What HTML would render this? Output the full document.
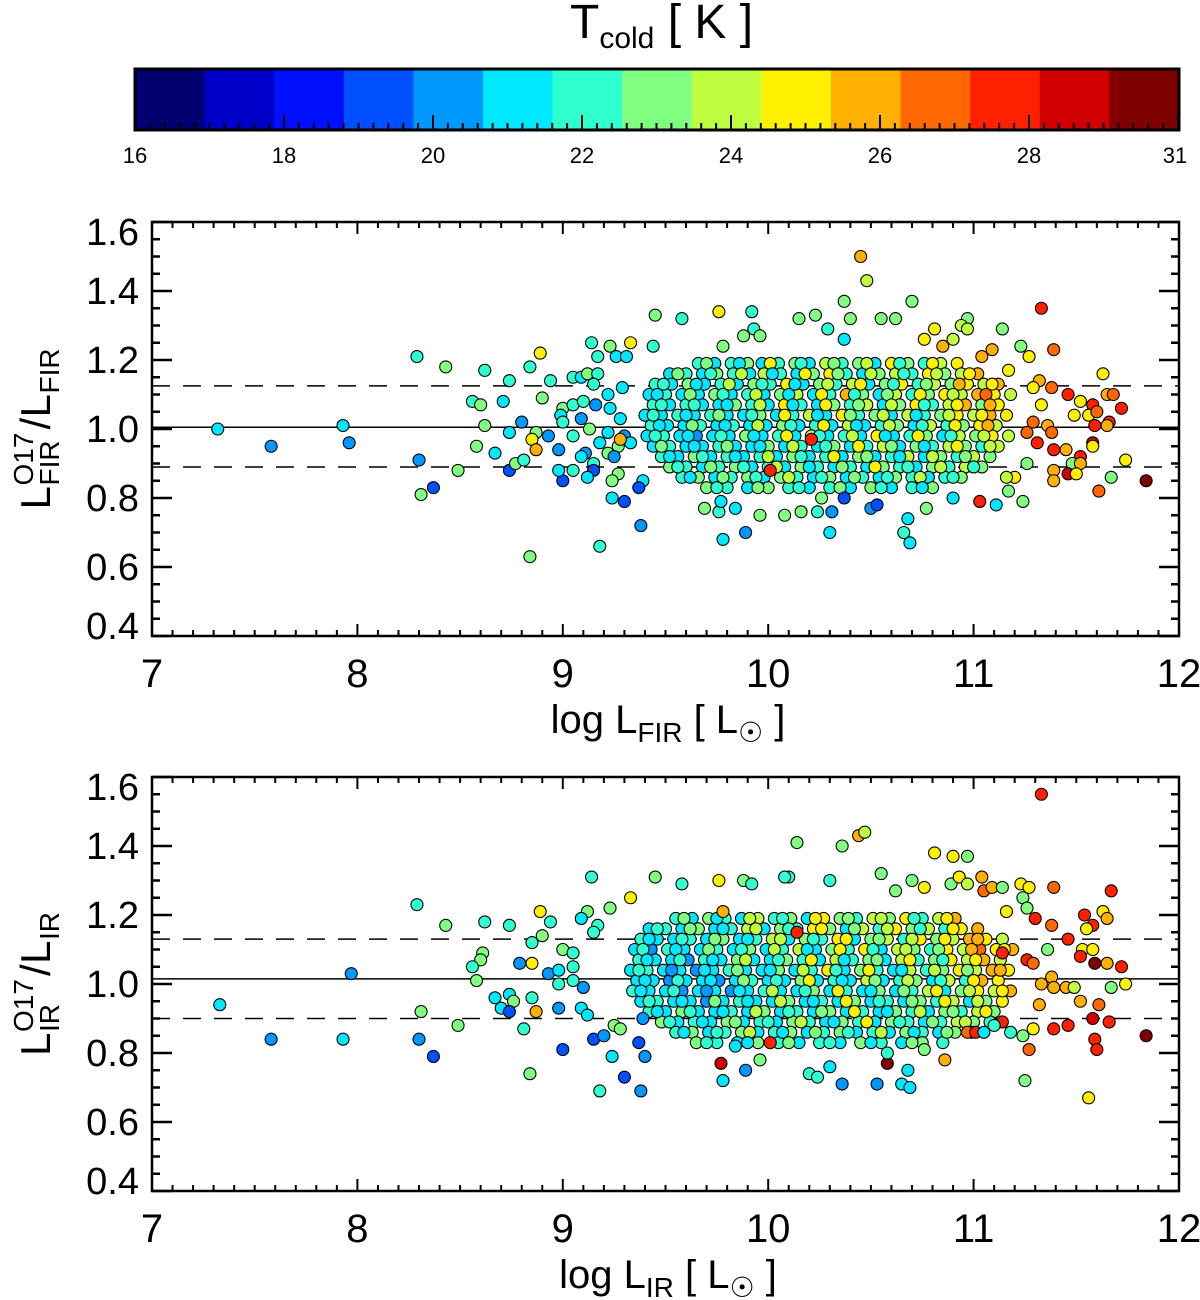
<!DOCTYPE html>
<html><head><meta charset="utf-8">
<style>
html,body{margin:0;padding:0;background:#fff;}
svg{display:block;font-family:"Liberation Sans","DejaVu Sans",sans-serif;}
</style></head>
<body>
<svg id="fig" width="1200" height="1300" viewBox="0 0 1200 1300" xmlns="http://www.w3.org/2000/svg"></svg>
<script>
// ---------- data ----------
const cbTickLabels = [16,18,20,22,24,26,28];
const cbEndLabel = "31";
const cbColors = ["#00006e","#0000c8","#0010ff","#0050ff","#0098ff","#00e8ff","#30ffd0","#80ff80","#c0ff40","#fff000","#ffb000","#ff6800","#ff2000","#d00000","#800000"];
const xTicks = [7,8,9,10,11,12];
const yTicks = [0.4,0.6,0.8,1.0,1.2,1.4,1.6];
const firRefLines = [1.005,1.125,0.89];
const irRefLines = [1.015,1.13,0.90];

const firCore = [
[9.66,1.19,22],[9.74,1.19,21],[9.82,1.19,22],[9.90,1.19,23],[9.97,1.19,21],[10.05,1.19,22],[10.13,1.19,23],[10.20,1.19,21],[10.28,1.19,24],[10.36,1.19,22],[10.44,1.19,23],[10.52,1.19,21],[10.60,1.19,25],[10.68,1.19,23],[10.76,1.19,22],[10.84,1.19,24],[10.92,1.19,25],
[9.52,1.16,21],[9.60,1.16,22],[9.68,1.16,21],[9.75,1.16,23],[9.83,1.16,22],[9.91,1.16,21],[9.98,1.16,24],[10.06,1.16,22],[10.14,1.16,21],[10.22,1.16,23],[10.30,1.16,25],[10.38,1.16,22],[10.46,1.16,21],[10.54,1.16,23],[10.62,1.16,24],[10.70,1.16,22],[10.78,1.16,25],[10.86,1.16,23],[10.94,1.16,24],[11.02,1.16,26],
[9.45,1.13,22],[9.53,1.13,21],[9.61,1.13,23],[9.69,1.13,21],[9.77,1.13,22],[9.85,1.13,21],[9.93,1.13,23],[10.01,1.13,22],[10.09,1.13,25],[10.17,1.13,21],[10.25,1.13,23],[10.33,1.13,22],[10.41,1.13,24],[10.49,1.13,21],[10.57,1.13,23],[10.65,1.13,25],[10.73,1.13,22],[10.81,1.13,24],[10.89,1.13,23],[10.97,1.13,25],[11.05,1.13,24],[11.12,1.13,26],
[9.42,1.10,21],[9.50,1.10,22],[9.58,1.10,21],[9.66,1.10,21],[9.74,1.10,23],[9.82,1.10,21],[9.90,1.10,22],[9.98,1.10,21],[10.06,1.10,23],[10.14,1.10,24],[10.22,1.10,21],[10.30,1.10,22],[10.38,1.10,26],[10.46,1.10,23],[10.54,1.10,21],[10.62,1.10,24],[10.70,1.10,22],[10.78,1.10,23],[10.86,1.10,25],[10.94,1.10,24],[11.02,1.10,26],[11.10,1.10,25],[11.18,1.10,24],
[9.44,1.07,22],[9.52,1.07,21],[9.60,1.07,22],[9.68,1.07,21],[9.76,1.07,21],[9.84,1.07,23],[9.92,1.07,22],[10.00,1.07,21],[10.08,1.07,25],[10.16,1.07,22],[10.24,1.07,21],[10.32,1.07,23],[10.40,1.07,22],[10.48,1.07,24],[10.56,1.07,21],[10.64,1.07,23],[10.72,1.07,25],[10.80,1.07,22],[10.88,1.07,24],[10.96,1.07,26],[11.04,1.07,23],[11.12,1.07,25],
[9.40,1.04,21],[9.48,1.04,21],[9.56,1.04,22],[9.64,1.04,21],[9.72,1.04,22],[9.80,1.04,21],[9.88,1.04,21],[9.96,1.04,23],[10.04,1.04,21],[10.12,1.04,22],[10.20,1.04,24],[10.28,1.04,21],[10.36,1.04,25],[10.44,1.04,22],[10.52,1.04,23],[10.60,1.04,21],[10.68,1.04,24],[10.76,1.04,22],[10.84,1.04,23],[10.92,1.04,25],[11.00,1.04,24],[11.08,1.04,26],[11.16,1.04,25],
[9.43,1.01,22],[9.51,1.01,21],[9.59,1.01,21],[9.67,1.01,22],[9.75,1.01,21],[9.83,1.01,22],[9.91,1.01,21],[9.99,1.01,21],[10.07,1.01,23],[10.15,1.01,21],[10.23,1.01,22],[10.31,1.01,21],[10.39,1.01,24],[10.47,1.01,21],[10.55,1.01,22],[10.63,1.01,23],[10.71,1.01,21],[10.79,1.01,24],[10.87,1.01,22],[10.95,1.01,23],[11.03,1.01,25],[11.11,1.01,24],
[9.41,0.98,21],[9.49,0.98,22],[9.57,0.98,21],[9.65,0.98,20],[9.73,0.98,21],[9.81,0.98,21],[9.89,0.98,23],[9.97,0.98,21],[10.05,0.98,22],[10.13,0.98,21],[10.21,0.98,24],[10.29,0.98,21],[10.37,0.98,22],[10.45,0.98,21],[10.53,0.98,25],[10.61,0.98,21],[10.69,0.98,22],[10.77,0.98,23],[10.85,0.98,21],[10.93,0.98,24],[11.01,0.98,23],[11.09,0.98,25],[11.17,0.98,24],
[9.44,0.95,21],[9.52,0.95,22],[9.60,0.95,21],[9.68,0.95,21],[9.76,0.95,22],[9.84,0.95,21],[9.92,0.95,21],[10.00,0.95,23],[10.08,0.95,21],[10.16,0.95,22],[10.24,0.95,21],[10.32,0.95,23],[10.40,0.95,21],[10.48,0.95,22],[10.56,0.95,24],[10.64,0.95,21],[10.72,0.95,23],[10.80,0.95,22],[10.88,0.95,24],[10.96,0.95,23],[11.04,0.95,22],[11.12,0.95,24],
[9.48,0.92,22],[9.56,0.92,21],[9.64,0.92,23],[9.72,0.92,21],[9.80,0.92,22],[9.88,0.92,21],[9.96,0.92,22],[10.04,0.92,21],[10.12,0.92,23],[10.20,0.92,21],[10.28,0.92,22],[10.36,0.92,21],[10.44,0.92,23],[10.52,0.92,21],[10.60,0.92,22],[10.68,0.92,24],[10.76,0.92,21],[10.84,0.92,23],[10.92,0.92,22],[11.00,0.92,24],[11.08,0.92,23],
[9.52,0.89,23],[9.60,0.89,22],[9.68,0.89,21],[9.76,0.89,22],[9.84,0.89,23],[9.92,0.89,21],[10.00,0.89,22],[10.08,0.89,21],[10.16,0.89,23],[10.24,0.89,22],[10.32,0.89,21],[10.40,0.89,22],[10.48,0.89,21],[10.56,0.89,23],[10.64,0.89,22],[10.72,0.89,21],[10.80,0.89,23],[10.88,0.89,22],[10.96,0.89,24],[11.04,0.89,23],
[9.58,0.86,22],[9.66,0.86,23],[9.74,0.86,21],[9.82,0.86,22],[9.90,0.86,23],[9.98,0.86,21],[10.06,0.86,23],[10.14,0.86,22],[10.22,0.86,21],[10.30,0.86,23],[10.38,0.86,21],[10.46,0.86,22],[10.54,0.86,21],[10.62,0.86,23],[10.70,0.86,22],[10.78,0.86,21],[10.86,0.86,22],[10.94,0.86,23],
[9.70,0.83,23],[9.80,0.83,22],[9.90,0.83,21],[10.00,0.83,23],[10.10,0.83,22],[10.20,0.83,21],[10.30,0.83,22],[10.40,0.83,21],[10.50,0.83,23],[10.60,0.83,21],[10.70,0.83,22],[10.80,0.83,23]
];

const firFill = [
[9.70,1.19,23],[9.86,1.19,21],[10.01,1.19,25],[10.16,1.19,22],[10.32,1.19,23],[10.48,1.19,24],[10.64,1.19,22],[10.80,1.19,25],
[9.56,1.16,23],[9.72,1.16,22],[9.87,1.16,24],[10.02,1.16,21],[10.18,1.16,25],[10.34,1.16,23],[10.50,1.16,24],[10.66,1.16,22],[10.82,1.16,24],[10.98,1.16,25],
[9.49,1.13,22],[9.65,1.13,21],[9.81,1.13,24],[9.97,1.13,22],[10.13,1.13,21],[10.29,1.13,24],[10.45,1.13,25],[10.61,1.13,22],[10.77,1.13,23],[10.93,1.13,26],[11.09,1.13,25],
[9.46,1.10,21],[9.62,1.10,23],[9.78,1.10,22],[9.94,1.10,24],[10.10,1.10,21],[10.26,1.10,25],[10.42,1.10,22],[10.58,1.10,23],[10.74,1.10,25],[10.90,1.10,24],[11.06,1.10,27],
[9.48,1.07,22],[9.64,1.07,22],[9.80,1.07,21],[9.96,1.07,24],[10.12,1.07,21],[10.28,1.07,25],[10.44,1.07,23],[10.60,1.07,24],[10.76,1.07,22],[10.92,1.07,25],[11.08,1.07,26],
[9.44,1.04,22],[9.60,1.04,21],[9.76,1.04,23],[9.92,1.04,22],[10.08,1.04,25],[10.24,1.04,21],[10.40,1.04,23],[10.56,1.04,24],[10.72,1.04,21],[10.88,1.04,24],[11.04,1.04,25],
[9.47,1.01,21],[9.63,1.01,23],[9.79,1.01,21],[9.95,1.01,24],[10.11,1.01,22],[10.27,1.01,25],[10.43,1.01,21],[10.59,1.01,24],[10.75,1.01,22],[10.91,1.01,25],[11.07,1.01,26],
[9.45,0.98,22],[9.61,0.98,21],[9.77,0.98,22],[9.93,0.98,21],[10.09,0.98,25],[10.25,0.98,22],[10.41,0.98,24],[10.57,0.98,21],[10.73,0.98,25],[10.89,0.98,22],[11.05,0.98,24],
[9.48,0.95,23],[9.64,0.95,21],[9.80,0.95,23],[9.96,0.95,21],[10.12,0.95,24],[10.28,0.95,22],[10.44,0.95,25],[10.60,0.95,23],[10.76,0.95,21],[10.92,0.95,25],[11.08,0.95,24],
[9.52,0.92,21],[9.68,0.92,22],[9.84,0.92,21],[10.00,0.92,24],[10.16,0.92,22],[10.32,0.92,25],[10.48,0.92,23],[10.64,0.92,21],[10.80,0.92,24],[10.96,0.92,23],
[9.56,0.89,22],[9.72,0.89,23],[9.88,0.89,22],[10.04,0.89,24],[10.20,0.89,21],[10.36,0.89,23],[10.52,0.89,25],[10.68,0.89,22],[10.84,0.89,24],[11.00,0.89,22],
[9.62,0.86,21],[9.78,0.86,23],[9.94,0.86,22],[10.10,0.86,24],[10.26,0.86,22],[10.42,0.86,23],[10.58,0.86,22],[10.74,0.86,24],[10.90,0.86,22],
[9.75,0.83,22],[9.95,0.83,23],[10.15,0.83,22],[10.35,0.83,23],[10.55,0.83,22],[10.75,0.83,21]
];

const firOut = [
[7.32,1.00,21],[7.58,0.95,20],[7.93,1.01,21],[7.96,0.96,20],[8.29,1.21,22],[8.43,1.18,23.5],[8.62,1.17,22],[8.74,1.14,22],[8.84,1.18,22],[8.89,1.22,25],[8.94,1.14,22],
[8.56,1.08,22],[8.60,1.07,23],[8.71,1.08,21],[8.80,1.02,20],[8.90,1.09,23.5],[8.62,1.01,23],[8.74,0.99,21],[8.58,0.95,23.5],[8.67,0.93,21.5],[8.30,0.91,20],[8.49,0.88,23],
[8.74,0.88,19],[8.77,0.90,23],[8.81,0.91,22.5],[8.37,0.83,19],[8.31,0.81,23],[8.87,0.99,23],[8.85,0.97,25],[8.87,0.94,26.5],[8.93,0.98,20],[8.98,0.94,20],[9.00,0.85,19],
[8.98,0.88,21.5],[9.05,0.88,22],[9.05,0.98,22],[9.00,1.06,23.5],[9.05,1.07,22],[8.99,1.04,21.5],[9.00,1.02,22.5],[9.10,1.08,22],[9.09,1.03,20],[9.13,1.00,23],[9.16,1.07,20],
[9.17,1.21,22],[9.14,1.25,22],[9.23,1.24,23],[9.26,1.21,21],[9.31,1.21,21],[9.33,1.25,25],[9.44,1.24,22],[9.45,1.33,23.5],[9.58,1.32,22],[9.76,1.34,25],[9.92,1.34,22],
[9.93,1.29,22],[9.88,1.27,23.5],[9.96,1.27,23],[9.78,1.24,23],[9.05,1.15,22],[9.09,1.15,21],[9.12,1.16,23.5],[9.17,1.16,22],[9.15,1.13,22],[9.29,1.12,21],[9.22,1.10,21],
[9.23,1.06,21],[9.28,1.03,21],[9.22,0.99,21],[9.18,0.96,21],[9.11,0.93,20.5],[9.15,0.90,22],[9.15,0.88,19],[9.12,0.86,21.5],[9.09,0.92,21.5],[9.22,0.93,23],[9.27,0.95,23],
[9.25,0.92,20],[9.30,0.98,20],[9.33,0.96,21],[9.28,0.97,26],[9.27,0.87,23],[9.24,0.85,23],[9.39,0.85,21],[9.37,0.83,19],[9.24,0.80,21],[9.30,0.79,19],[9.38,0.72,20],
[9.18,0.66,22],[8.84,0.63,23],
[10.45,1.50,26],[10.48,1.43,24],[10.37,1.37,23],[10.70,1.37,23.5],[11.33,1.35,28.5],[10.15,1.32,23],[10.23,1.33,23],[10.40,1.32,23.5],[10.55,1.32,23],[10.62,1.32,23],
[10.97,1.32,23],[10.94,1.30,24.5],[10.97,1.29,24],[10.81,1.29,25],[11.14,1.29,23.5],[10.76,1.26,25],[10.90,1.26,24],[10.85,1.24,26],[11.39,1.23,27],[11.23,1.24,23.5],
[11.27,1.21,25],[11.04,1.21,26],[11.09,1.23,26],[11.17,1.17,25],[11.63,1.16,25],[11.32,1.14,26],[11.38,1.12,27],[11.46,1.10,28],[11.52,1.08,25],[11.58,1.07,28],
[11.65,1.10,26],[11.68,1.10,27.5],[11.72,1.06,28],[11.49,1.04,25],[11.56,1.04,25.5],[11.60,1.05,27.5],[11.66,1.02,28.5],[11.65,1.01,26],[11.59,1.01,28],[11.29,1.12,25],
[11.33,1.07,25],[11.29,1.02,27],[11.36,1.01,26],[11.38,0.99,27],[11.26,0.99,27],[11.31,0.96,28],[11.39,0.94,28],[11.45,0.94,26],[11.58,0.96,29.5],[11.58,0.95,25],
[11.52,0.92,28],[11.48,0.90,23.5],[11.52,0.90,26],[11.74,0.91,25],[11.39,0.88,26],[11.46,0.87,29],[11.50,0.87,25],[11.67,0.86,23.5],[11.39,0.85,26],[11.61,0.82,27.5],
[11.84,0.85,30],[11.24,0.79,23],[11.11,0.78,21.5],[11.03,0.79,28],[11.17,0.82,23],[11.26,0.90,23.5],[11.20,0.86,25],[11.16,0.86,24.5],[10.30,0.70,21.5],[10.66,0.70,22],
[10.69,0.67,21.5],[10.68,0.74,21],[10.37,0.80,19.5],[10.31,0.76,20],[10.50,0.77,20],[10.53,0.78,19.5],[10.77,0.77,23],[10.90,0.80,21.5],[10.26,0.80,23],[10.16,0.76,23],
[10.24,0.76,22.5],[10.21,0.97,28],[10.29,1.29,22],[10.37,1.26,21.5],
[9.78,0.68,21],[9.89,0.70,20],[9.96,0.75,23],[10.08,0.75,23.5],[9.84,0.77,21],[9.76,0.76,22],[9.69,0.77,23],[9.77,0.79,21],[10.01,0.88,28]
];

const irCore = [
[9.55,1.19,22],[9.63,1.19,21],[9.71,1.19,23],[9.79,1.19,22],[9.87,1.19,21],[9.95,1.19,24],[10.03,1.19,22],[10.11,1.19,23],[10.19,1.19,21],[10.27,1.19,25],[10.35,1.19,23],[10.43,1.19,22],[10.51,1.19,24],[10.59,1.19,23],[10.67,1.19,25],[10.75,1.19,22],[10.83,1.19,24],[10.91,1.19,26],
[9.42,1.16,21],[9.50,1.16,22],[9.58,1.16,21],[9.66,1.16,23],[9.74,1.16,21],[9.82,1.16,22],[9.90,1.16,24],[9.98,1.16,21],[10.06,1.16,23],[10.14,1.16,22],[10.22,1.16,25],[10.30,1.16,23],[10.38,1.16,21],[10.46,1.16,24],[10.54,1.16,22],[10.62,1.16,25],[10.70,1.16,23],[10.78,1.16,24],[10.86,1.16,22],[10.94,1.16,25],[11.02,1.16,26],
[9.38,1.13,22],[9.46,1.13,21],[9.54,1.13,21],[9.62,1.13,22],[9.70,1.13,21],[9.78,1.13,23],[9.86,1.13,21],[9.94,1.13,22],[10.02,1.13,24],[10.10,1.13,21],[10.18,1.13,23],[10.26,1.13,22],[10.34,1.13,25],[10.42,1.13,21],[10.50,1.13,23],[10.58,1.13,24],[10.66,1.13,22],[10.74,1.13,25],[10.82,1.13,23],[10.90,1.13,24],[10.98,1.13,26],[11.06,1.13,25],[11.14,1.13,24],
[9.35,1.10,21],[9.43,1.10,20],[9.51,1.10,22],[9.59,1.10,21],[9.67,1.10,21],[9.75,1.10,22],[9.83,1.10,21],[9.91,1.10,23],[9.99,1.10,21],[10.07,1.10,22],[10.15,1.10,24],[10.23,1.10,21],[10.31,1.10,23],[10.39,1.10,22],[10.47,1.10,25],[10.55,1.10,21],[10.63,1.10,24],[10.71,1.10,23],[10.79,1.10,22],[10.87,1.10,25],[10.95,1.10,24],[11.03,1.10,27],[11.11,1.10,25],[11.19,1.10,26],
[9.37,1.07,22],[9.45,1.07,21],[9.53,1.07,21],[9.61,1.07,20],[9.69,1.07,22],[9.77,1.07,21],[9.85,1.07,23],[9.93,1.07,21],[10.01,1.07,21],[10.09,1.07,23],[10.17,1.07,22],[10.25,1.07,21],[10.33,1.07,24],[10.41,1.07,22],[10.49,1.07,23],[10.57,1.07,21],[10.65,1.07,24],[10.73,1.07,22],[10.81,1.07,23],[10.89,1.07,25],[10.97,1.07,24],[11.05,1.07,26],[11.13,1.07,24],
[9.33,1.04,21],[9.41,1.04,22],[9.49,1.04,21],[9.57,1.04,21],[9.65,1.04,20],[9.73,1.04,21],[9.81,1.04,22],[9.89,1.04,21],[9.97,1.04,21],[10.05,1.04,23],[10.13,1.04,21],[10.21,1.04,22],[10.29,1.04,25],[10.37,1.04,21],[10.45,1.04,23],[10.53,1.04,22],[10.61,1.04,21],[10.69,1.04,24],[10.77,1.04,22],[10.85,1.04,23],[10.93,1.04,25],[11.01,1.04,24],[11.09,1.04,26],[11.17,1.04,25],
[9.36,1.01,21],[9.44,1.01,21],[9.52,1.01,20],[9.60,1.01,21],[9.68,1.01,21],[9.76,1.01,20],[9.84,1.01,21],[9.92,1.01,22],[10.00,1.01,21],[10.08,1.01,21],[10.16,1.01,23],[10.24,1.01,21],[10.32,1.01,22],[10.40,1.01,21],[10.48,1.01,24],[10.56,1.01,21],[10.64,1.01,22],[10.72,1.01,23],[10.80,1.01,21],[10.88,1.01,24],[10.96,1.01,22],[11.04,1.01,26],[11.12,1.01,25],
[9.34,0.98,22],[9.42,0.98,21],[9.50,0.98,21],[9.58,0.98,20],[9.66,0.98,21],[9.74,0.98,21],[9.82,0.98,20],[9.90,0.98,21],[9.98,0.98,22],[10.06,0.98,21],[10.14,0.98,21],[10.22,0.98,23],[10.30,0.98,21],[10.38,0.98,22],[10.46,0.98,21],[10.54,0.98,23],[10.62,0.98,21],[10.70,0.98,22],[10.78,0.98,24],[10.86,0.98,21],[10.94,0.98,23],[11.02,0.98,25],[11.10,0.98,24],[11.18,0.98,26],
[9.38,0.95,21],[9.46,0.95,22],[9.54,0.95,21],[9.62,0.95,21],[9.70,0.95,20],[9.78,0.95,21],[9.86,0.95,22],[9.94,0.95,21],[10.02,0.95,21],[10.10,0.95,23],[10.18,0.95,21],[10.26,0.95,22],[10.34,0.95,21],[10.42,0.95,23],[10.50,0.95,21],[10.58,0.95,22],[10.66,0.95,21],[10.74,0.95,23],[10.82,0.95,22],[10.90,0.95,24],[10.98,0.95,21],[11.06,0.95,23],[11.14,0.95,25],
[9.42,0.92,22],[9.50,0.92,21],[9.58,0.92,23],[9.66,0.92,21],[9.74,0.92,21],[9.82,0.92,22],[9.90,0.92,21],[9.98,0.92,23],[10.06,0.92,21],[10.14,0.92,22],[10.22,0.92,21],[10.30,0.92,23],[10.38,0.92,21],[10.46,0.92,22],[10.54,0.92,21],[10.62,0.92,23],[10.70,0.92,22],[10.78,0.92,21],[10.86,0.92,23],[10.94,0.92,22],[11.02,0.92,24],[11.10,0.92,23],
[9.48,0.89,23],[9.56,0.89,21],[9.64,0.89,22],[9.72,0.89,21],[9.80,0.89,23],[9.88,0.89,21],[9.96,0.89,22],[10.04,0.89,21],[10.12,0.89,23],[10.20,0.89,22],[10.28,0.89,21],[10.36,0.89,23],[10.44,0.89,22],[10.52,0.89,21],[10.60,0.89,23],[10.68,0.89,22],[10.76,0.89,21],[10.84,0.89,22],[10.92,0.89,24],[11.00,0.89,23],[11.08,0.89,22],
[9.55,0.86,22],[9.63,0.86,23],[9.71,0.86,21],[9.79,0.86,22],[9.87,0.86,23],[9.95,0.86,21],[10.03,0.86,22],[10.11,0.86,23],[10.19,0.86,21],[10.27,0.86,22],[10.35,0.86,23],[10.43,0.86,21],[10.51,0.86,22],[10.59,0.86,21],[10.67,0.86,23],[10.75,0.86,22],[10.83,0.86,21],[10.91,0.86,23],[10.99,0.86,22],
[9.65,0.83,23],[9.75,0.83,22],[9.85,0.83,21],[9.95,0.83,23],[10.05,0.83,22],[10.15,0.83,21],[10.25,0.83,22],[10.35,0.83,21],[10.45,0.83,23],[10.55,0.83,22],[10.65,0.83,21],[10.75,0.83,23],[10.85,0.83,22]
];

const irFill = [
[9.59,1.19,23],[9.75,1.19,21],[9.91,1.19,24],[10.07,1.19,22],[10.23,1.19,25],[10.39,1.19,23],[10.55,1.19,24],[10.71,1.19,22],[10.87,1.19,25],
[9.46,1.16,22],[9.62,1.16,23],[9.78,1.16,21],[9.94,1.16,24],[10.10,1.16,22],[10.26,1.16,25],[10.42,1.16,23],[10.58,1.16,24],[10.74,1.16,22],[10.90,1.16,25],
[9.42,1.13,21],[9.58,1.13,22],[9.74,1.13,23],[9.90,1.13,21],[10.06,1.13,24],[10.22,1.13,22],[10.38,1.13,25],[10.54,1.13,23],[10.70,1.13,24],[10.86,1.13,25],[11.02,1.13,26],
[9.39,1.10,22],[9.55,1.10,21],[9.71,1.10,23],[9.87,1.10,22],[10.03,1.10,24],[10.19,1.10,21],[10.35,1.10,25],[10.51,1.10,22],[10.67,1.10,24],[10.83,1.10,23],[10.99,1.10,26],[11.15,1.10,25],
[9.41,1.07,21],[9.57,1.07,22],[9.73,1.07,21],[9.89,1.07,24],[10.05,1.07,22],[10.21,1.07,25],[10.37,1.07,21],[10.53,1.07,23],[10.69,1.07,25],[10.85,1.07,22],[11.01,1.07,25],
[9.37,1.04,22],[9.53,1.04,20],[9.69,1.04,21],[9.85,1.04,23],[10.01,1.04,21],[10.17,1.04,24],[10.33,1.04,22],[10.49,1.04,25],[10.65,1.04,21],[10.81,1.04,24],[10.97,1.04,23],[11.13,1.04,26],
[9.40,1.01,21],[9.56,1.01,22],[9.72,1.01,21],[9.88,1.01,23],[10.04,1.01,22],[10.20,1.01,25],[10.36,1.01,21],[10.52,1.01,23],[10.68,1.01,24],[10.84,1.01,22],[11.00,1.01,25],
[9.38,0.98,21],[9.54,0.98,22],[9.70,0.98,20],[9.86,0.98,21],[10.02,0.98,24],[10.18,0.98,22],[10.34,0.98,25],[10.50,0.98,21],[10.66,0.98,23],[10.82,0.98,25],[10.98,0.98,24],[11.14,0.98,25],
[9.42,0.95,22],[9.58,0.95,21],[9.74,0.95,23],[9.90,0.95,21],[10.06,0.95,24],[10.22,0.95,21],[10.38,0.95,25],[10.54,0.95,22],[10.70,0.95,23],[10.86,0.95,25],[11.02,0.95,24],
[9.46,0.92,21],[9.62,0.92,22],[9.78,0.92,21],[9.94,0.92,24],[10.10,0.92,22],[10.26,0.92,23],[10.42,0.92,25],[10.58,0.92,21],[10.74,0.92,24],[10.90,0.92,23],[11.06,0.92,25],
[9.52,0.89,22],[9.68,0.89,21],[9.84,0.89,23],[10.00,0.89,22],[10.16,0.89,24],[10.32,0.89,21],[10.48,0.89,25],[10.64,0.89,22],[10.80,0.89,23],[10.96,0.89,24],
[9.59,0.86,21],[9.75,0.86,22],[9.91,0.86,24],[10.07,0.86,21],[10.23,0.86,23],[10.39,0.86,22],[10.55,0.86,24],[10.71,0.86,21],[10.87,0.86,23],
[9.70,0.83,22],[9.90,0.83,21],[10.10,0.83,23],[10.30,0.83,22],[10.50,0.83,21],[10.70,0.83,23]
];

const irOut = [
[7.33,0.94,21],[7.58,0.84,20],[7.93,0.84,21],[7.97,1.03,20],
[8.29,1.23,22],[8.43,1.17,23.5],[8.62,1.18,22],[8.74,1.17,22],[8.89,1.21,25],[8.94,1.18,22],[9.14,1.31,22],[9.45,1.31,23.5],[9.58,1.29,22],[9.76,1.30,25],[9.33,1.25,25],
[9.23,1.22,23],[9.12,1.21,23.5],[9.09,1.19,21],[9.17,1.17,22],[9.15,1.15,22],[8.90,1.14,23.5],[8.85,1.12,22],[8.61,1.09,23],[8.60,1.07,23],[8.56,1.05,22],[8.58,1.01,23.5],
[8.79,1.06,20],[8.85,1.06,25],[8.93,1.03,20],[9.00,1.10,23.5],[9.05,1.09,22],[8.98,1.04,21.5],[9.05,1.05,22],[8.98,1.00,22],[9.05,1.01,22],[9.10,0.99,20],[8.67,0.96,21.5],
[8.74,0.97,21.5],[8.76,0.95,23],[8.70,0.93,21],[8.74,0.92,19],[8.85,0.96,22],[8.87,0.92,26.5],[8.98,0.93,20],[9.09,0.93,21.5],[9.12,0.91,21.5],[8.31,0.92,23],[8.49,0.88,23],
[8.81,0.87,22],[8.30,0.84,20],[8.37,0.79,19],[8.84,0.74,23],[9.00,0.81,19],[9.15,0.84,19],[9.20,0.85,20],[9.25,0.88,23],[9.28,0.87,23],[9.24,0.79,21],[9.30,0.73,19],
[9.18,0.69,22],[9.38,0.69,20],[9.40,0.79,20],[9.37,0.83,19],[9.39,0.90,20],[9.77,0.77,29],[9.78,0.72,21],[9.89,0.75,20],[9.96,0.78,23],[10.01,0.83,28],[9.84,0.82,21],
[9.78,1.21,26],[9.88,1.30,23.5],[9.92,1.29,22],[10.10,1.31,22],[10.14,1.41,23],[10.14,1.15,28],
[11.33,1.55,28.5],[10.44,1.43,26],[10.47,1.44,24],[10.36,1.40,23],[10.81,1.38,25],[10.90,1.37,25],[10.97,1.37,23],[10.08,1.31,22],[10.55,1.32,23],[10.70,1.30,23.5],
[10.62,1.27,23],[10.76,1.28,25],[10.30,1.30,22],[10.89,1.29,23],[10.93,1.31,25],[10.97,1.29,24],[11.04,1.31,26],[11.05,1.27,27],[11.09,1.28,26],[11.14,1.28,23.5],
[11.23,1.29,25],[11.27,1.28,25],[11.24,1.25,23.5],[11.26,1.22,23],[11.39,1.28,27],[11.67,1.27,28],[11.16,1.21,25],[11.63,1.21,25],[11.65,1.19,26],[11.54,1.20,28],
[11.58,1.17,28],[11.55,1.16,25],[11.30,1.19,28],[11.38,1.17,27],[11.46,1.13,28],[11.53,1.10,25],[11.58,1.10,25],[11.52,1.08,28],[11.59,1.06,30],[11.65,1.06,26],
[11.72,1.05,28],[11.36,1.10,23],[11.14,1.09,28.5],[11.26,1.07,28],[11.29,1.06,27],[11.38,1.02,26.5],[11.33,1.00,26],[11.39,0.99,26],[11.45,0.99,26],[11.49,0.99,24],
[11.67,0.99,23],[11.74,1.00,25],[11.52,0.95,26],[11.61,0.94,27],[11.32,0.94,26],[11.58,0.90,29],[11.66,0.89,28.5],[11.46,0.88,28.5],[11.39,0.87,28],[11.29,0.87,25],
[11.59,0.84,28],[11.60,0.81,28.5],[11.84,0.85,30],[11.27,0.81,27],[11.24,0.85,23],[11.25,0.72,23.5],[11.56,0.67,25],[11.18,0.86,22],[11.14,0.89,28],[10.97,0.86,27.5],
[11.01,0.86,28],[11.05,0.86,21.5],[11.10,0.88,22],[10.86,0.78,26],[10.58,0.77,30],[10.68,0.75,21.5],[10.65,0.71,21.5],[10.69,0.70,21.5],[10.53,0.71,20],[10.36,0.71,20],
[10.20,0.74,22],[10.24,0.73,22],[10.30,0.76,21.5],[10.58,0.80,22.5],[10.76,0.81,23]
];

// ---------- layout ----------
const NS = "http://www.w3.org/2000/svg";
const svg = document.getElementById("fig");
const PL = 152, PR = 1179;
const CBL = 135, CBR = 1179, CBT = 69, CBB = 130;

function mk(tag, attrs, parent) {
  const e = document.createElementNS(NS, tag);
  for (const k in attrs) e.setAttribute(k, attrs[k]);
  (parent || svg).appendChild(e);
  return e;
}
function colorOf(t) {
  let i = Math.floor(t - 16);
  if (i < 0) i = 0; if (i > 14) i = 14;
  return cbColors[i];
}

// ---------- title ----------
const title = mk("text", {x: 570, y: 38, "font-size": 48, fill: "#000"});


title.innerHTML = 'T<tspan font-size="30" dy="10">cold</tspan><tspan dy="-10" font-size="48"> [ K ]</tspan>';

// ---------- colorbar ----------
const cbG = mk("g", {});


const segW = (CBR - CBL) / cbColors.length;
cbColors.forEach((c, i) => {
  const r = mk("rect", {x: CBL + i * segW, y: CBT, width: segW + 0.6, height: CBB - CBT, fill: c}, cbG);
  
  
});
const cbPx = v => CBL + (v - 16) * 74.5;
for (let k = 0; k <= 70; k++) {
  const v = 16 + k * 0.2;
  const x = cbPx(v);
  if (x > CBR - 1) break;
  const major = (k % 10 === 0);
  const t = mk("line", {x1: x, x2: x, y1: CBB, y2: CBB - (major ? 15 : 7), stroke: "#000", "stroke-width": 2}, cbG);
  
  
}
mk("rect", {x: CBL, y: CBT, width: CBR - CBL, height: CBB - CBT, fill: "none", stroke: "#000", "stroke-width": 3}, cbG);
cbTickLabels.forEach(v => {
  const t = mk("text", {x: cbPx(v), y: 163, "font-size": 22, "text-anchor": "middle"}, cbG);
  
  
  t.textContent = v;
});
const endL = mk("text", {x: CBR - 4, y: 163, "font-size": 22, "text-anchor": "middle"}, cbG);


endL.textContent = cbEndLabel;

// ---------- panels ----------
function panel(name, top, bottom, core, fill, outliers, refLines, subLabel, subW) {
  const g = mk("g", {});
  
  
  const sx = v => PL + (v - 7) / 5 * (PR - PL);
  const sy = v => top + (1.6 - v) / 1.2 * (bottom - top);

  refLines.forEach((v, i) => {
    const l = mk("line", {x1: PL, x2: PR, y1: sy(v), y2: sy(v), stroke: "#000", "stroke-width": 1.5}, g);
    if (i > 0) l.setAttribute("stroke-dasharray", "18 13");
    
    
  });

  const pg = mk("g", {}, g);
  
  
  core.concat(fill, outliers).forEach(p => {
    const c = mk("circle", {cx: sx(p[0]), cy: sy(p[1]), r: 6, fill: colorOf(p[2]), stroke: "#000", "stroke-width": 1.1}, pg);
    
    
  });

  const fr = mk("rect", {x: PL, y: top, width: PR - PL, height: bottom - top, fill: "none", stroke: "#000", "stroke-width": 2.5}, g);
  
  

  for (let k = 0; k <= 50; k++) {
    const x = sx(7 + k * 0.1);
    const len = (k % 10 === 0) ? 12 : 6;
    [[bottom, bottom - len], [top, top + len]].forEach(([a, b]) => {
      const t = mk("line", {x1: x, x2: x, y1: a, y2: b, stroke: "#000", "stroke-width": 2}, g);
      
      
    });
  }
  for (let k = 0; k <= 24; k++) {
    const y = sy(0.4 + k * 0.05);
    const len = (k % 4 === 0) ? 20 : 8;
    [[PL, PL + len], [PR, PR - len]].forEach(([a, b]) => {
      const t = mk("line", {x1: a, x2: b, y1: y, y2: y, stroke: "#000", "stroke-width": 2.5}, g);
      
      
    });
  }
  xTicks.forEach(v => {
    const t = mk("text", {x: sx(v), y: bottom + 51, "font-size": 40, "text-anchor": "middle"}, g);
    
    
    t.textContent = v;
  });
  yTicks.forEach(v => {
    let off = 0;
    if (v >= 1.6) off = 10;
    if (v <= 0.4) off = -10;
    const t = mk("text", {x: 139, y: sy(v) + 13 + off, "font-size": 38, "text-anchor": "end"}, g);
    
    
    t.textContent = v.toFixed(1);
  });

  const xt = mk("text", {x: 668, y: bottom + 97, "font-size": 40, "text-anchor": "middle"}, g);
  
  
  xt.innerHTML = 'log L<tspan font-size="28" dy="9">' + subLabel + '</tspan><tspan dy="-9"> [ L</tspan><tspan font-size="28" dy="9" font-family="DejaVu Sans">\u2609</tspan><tspan dy="-9"> ]</tspan>';

  const total = 116 + subW;
  const cy = (top + bottom) / 2;
  const yg = mk("g", {transform: "translate(50," + cy + ") rotate(-90)"}, g);
  
  
  const s = -total / 2;
  const parts = [
    ["L", s, 0, 42], ["O17", s + 24, -17, 28], [subLabel, s + 24, 9, 28],
    ["/", s + 80, 0, 42], ["L", s + 92, 0, 42], [subLabel, s + 116, 9, 28]
  ];
  parts.forEach(p => {
    const t = mk("text", {x: p[1], y: p[2], "font-size": p[3]}, yg);
    
    
    t.textContent = p[0];
  });
}

panel("fir-panel", 222, 636, firCore, firFill, firOut, firRefLines, "FIR", 45);
panel("ir-panel", 777, 1191, irCore, irFill, irOut, irRefLines, "IR", 28);
</script>
</body></html>
